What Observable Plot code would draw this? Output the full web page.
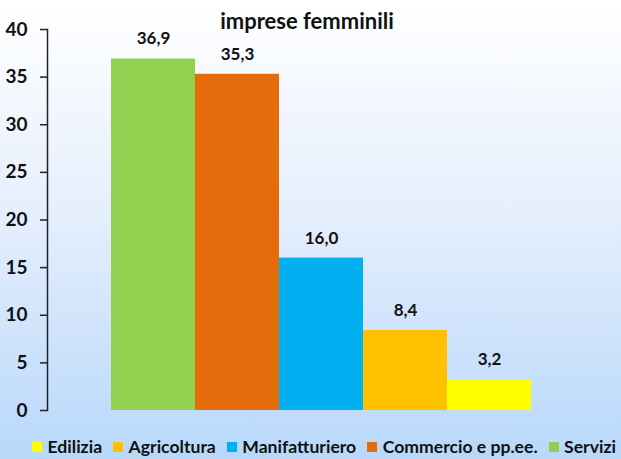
<!DOCTYPE html>
<html>
<head>
<meta charset="utf-8">
<script src="https://cdn.jsdelivr.net/npm/d3@7"></script>
<script src="https://cdn.jsdelivr.net/npm/@observablehq/plot@0.6"></script>
<style>
  html, body { margin: 0; padding: 0; }
  #wrap {
    position: relative; width: 621px; height: 459px; overflow: hidden;
    background: linear-gradient(to bottom, #ffffff 0%, #e6effd 45%, #b8d8fa 100%);
    font-family: Lato, "Noto Sans", sans-serif; font-weight: bold; color: #111;
  }
  #title {
    position: absolute; top: 7px; left: 0; width: 614px; text-align: center;
    font-size: 22px; line-height: 28px; white-space: nowrap;
  }
  #legend {
    position: absolute; top: 437px; left: 32px; display: flex; align-items: center;
    font-size: 17.6px; line-height: 20px; white-space: nowrap;
  }
  #legend .item { display: flex; align-items: center; margin-right: 11px; }
  #legend .sw { width: 10px; height: 10px; margin-right: 5.5px; }
  svg { display: block; }
</style>
</head>
<body>
<div id="wrap">
  <div id="chart"></div>
  <div id="title"></div>
</div>
<script>
const title = "imprese femminili";
const categories = ["Servizi", "Commercio e pp.ee.", "Manifatturiero", "Agricoltura", "Edilizia"];
const values = [36.9, 35.3, 16.0, 8.4, 3.2];
const colors = ["#92d050", "#e46c0a", "#00b0f0", "#ffc000", "#ffff00"];
const yTicks = [0, 5, 10, 15, 20, 25, 30, 35, 40];
const legendOrder = ["Edilizia", "Agricoltura", "Manifatturiero", "Commercio e pp.ee.", "Servizi"];

const data = categories.map((c, i) => ({cat: c, value: values[i]}));
const fmt = v => v.toFixed(1).replace(".", ",");

document.getElementById("title").textContent = title;

const chart = Plot.plot({
  width: 621,
  height: 440,
  marginTop: 29,
  marginBottom: 30,
  marginLeft: 47,
  marginRight: 27,
  style: {background: "transparent", fontFamily: "Lato, 'Noto Sans', sans-serif", overflow: "visible"},
  x: {domain: categories, paddingInner: 0, paddingOuter: 0.75, axis: null},
  y: {domain: [0, 40]},
  color: {domain: categories, range: colors},
  marks: [
    Plot.barY(data, {x: "cat", y: "value", fill: "cat"}),
    Plot.text(data, {x: "cat", y: "value", text: d => fmt(d.value), dy: -20, fontSize: 17, fontWeight: "bold", fill: "#111"}),
    Plot.axisY({ticks: yTicks, tickSize: 7, tickPadding: 13, fontSize: 19, fontWeight: "bold", stroke: "#222", strokeWidth: 1.5, fill: "#111", label: null}),
    Plot.frame({anchor: "left", stroke: "#222", strokeWidth: 1.5})
  ]
});
document.getElementById("chart").appendChild(chart);

const legend = document.createElement("div");
legend.id = "legend";
legendOrder.forEach(name => {
  const item = document.createElement("div");
  item.className = "item";
  const sw = document.createElement("span");
  sw.className = "sw";
  sw.style.background = colors[categories.indexOf(name)];
  const lab = document.createElement("span");
  lab.textContent = name;
  item.appendChild(sw);
  item.appendChild(lab);
  legend.appendChild(item);
});
document.getElementById("wrap").appendChild(legend);
</script>
</body>
</html>
